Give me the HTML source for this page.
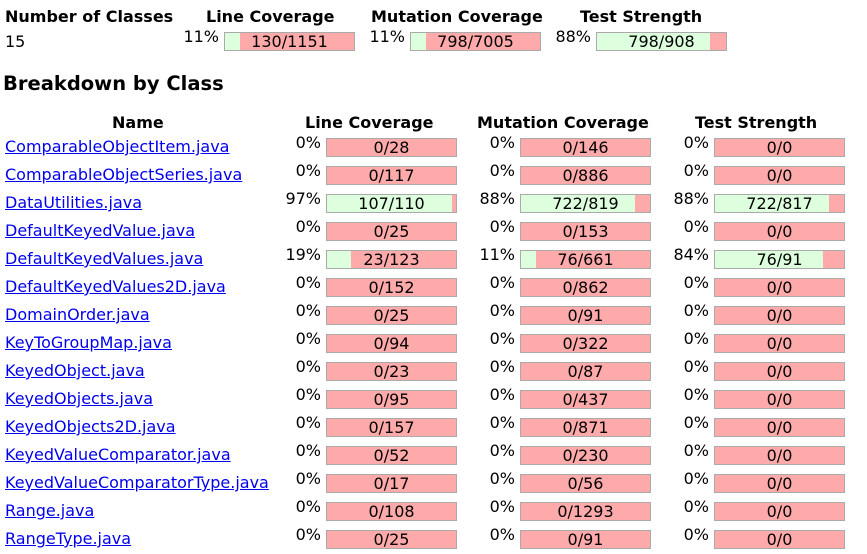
<!DOCTYPE html>
<html><head><meta charset="utf-8">
<style>
body{margin:0;width:867px;height:554px;background:#fff;font-family:"DejaVu Sans","Liberation Sans",sans-serif;font-size:16px;color:#000;position:relative;overflow:hidden}
.a{position:absolute;white-space:nowrap}
.h{font-weight:bold}
.bar{position:absolute;height:17px;border:1px solid #aaa;background:#ffaaaa;overflow:hidden}
.bar .g{position:absolute;left:0;top:0;bottom:0;background:#ddffdd}
.bar .t{position:absolute;left:0;right:0;top:-1px;text-align:center;line-height:19px}
.pct{position:absolute;text-align:right;width:50px;line-height:16px}
a{color:#0000ee}
</style></head><body>
<div class="a h" style="left:5px;top:7px">Number of Classes</div>
<div class="a h" style="left:206px;top:7px">Line Coverage</div>
<div class="a h" style="left:371px;top:7px">Mutation Coverage</div>
<div class="a h" style="left:580px;top:7px">Test Strength</div>
<div class="a" style="left:5px;top:32px">15</div>
<div class="a h" style="left:3px;top:72px;font-size:19.5px">Breakdown by Class</div>
<div class="a h" style="left:112px;top:113px">Name</div>
<div class="a h" style="left:305px;top:113px">Line Coverage</div>
<div class="a h" style="left:477px;top:113px">Mutation Coverage</div>
<div class="a h" style="left:695px;top:113px">Test Strength</div>
<div id="root"></div>
<script>
const summaryNum=[130,798,798];
const summaryDen=[1151,7005,908];
const classes=["ComparableObjectItem.java","ComparableObjectSeries.java","DataUtilities.java","DefaultKeyedValue.java","DefaultKeyedValues.java","DefaultKeyedValues2D.java","DomainOrder.java","KeyToGroupMap.java","KeyedObject.java","KeyedObjects.java","KeyedObjects2D.java","KeyedValueComparator.java","KeyedValueComparatorType.java","Range.java","RangeType.java"];
const lineNum=[0,0,107,0,23,0,0,0,0,0,0,0,0,0,0];
const lineDen=[28,117,110,25,123,152,25,94,23,95,157,52,17,108,25];
const mutNum=[0,0,722,0,76,0,0,0,0,0,0,0,0,0,0];
const mutDen=[146,886,819,153,661,862,91,322,87,437,871,230,56,1293,91];
const tsNum=[0,0,722,0,76,0,0,0,0,0,0,0,0,0,0];
const tsDen=[0,0,817,0,91,0,0,0,0,0,0,0,0,0,0];
const root=document.getElementById('root');
function bar(x,y,n,d,name){
  const p=d?Math.round(100*n/d):0;
  const pc=document.createElement('div');pc.className='pct';
  pc.style.left=(x-55)+'px';pc.style.top=(y-3)+'px';pc.textContent=p+'%';
  
  
  root.appendChild(pc);
  const b=document.createElement('div');b.className='bar';
  b.style.left=x+'px';b.style.top=y+'px';b.style.width='129px';
  
  
  const g=document.createElement('div');g.className='g';g.style.width=(d?129*n/d:0)+'px';
  
  
  const t=document.createElement('div');t.className='t';t.textContent=n+'/'+d;
  
  
  b.appendChild(g);b.appendChild(t);root.appendChild(b);
}
const sx=[224,410,596],sn=['summary-line','summary-mutation','summary-strength'];
for(let i=0;i<3;i++)bar(sx[i],32,summaryNum[i],summaryDen[i],sn[i]);
classes.forEach((c,i)=>{
  const y=138+i*28;
  const a=document.createElement('a');a.className='a';a.href='#';
  a.style.left='5px';a.style.top=(y-1)+'px';a.textContent=c;
  
  
  root.appendChild(a);
  bar(326,y,lineNum[i],lineDen[i],'line-coverage-'+i);
  bar(520,y,mutNum[i],mutDen[i],'mutation-coverage-'+i);
  bar(714,y,tsNum[i],tsDen[i],'test-strength-'+i);
});
</script>
</body></html>
